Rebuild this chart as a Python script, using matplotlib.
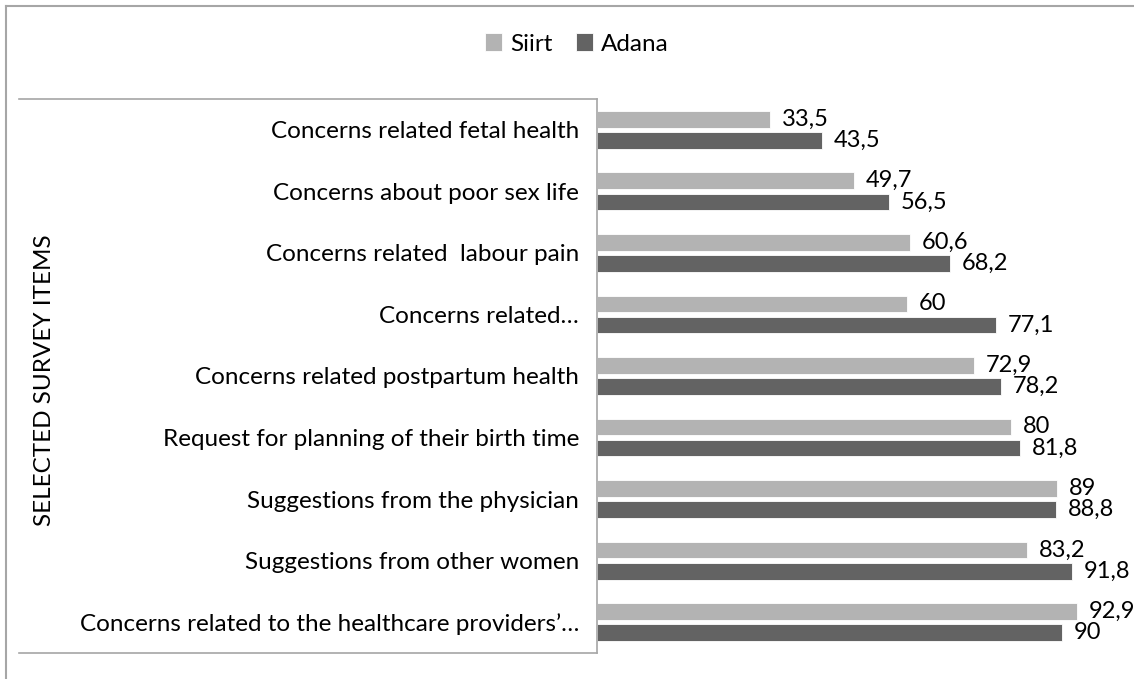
import numpy as np
import matplotlib.pyplot as plt
from matplotlib.lines import Line2D

plt.rcParams['font.family'] = ['Lato', 'DejaVu Sans']

# ----------- DONNÉES -----------
categories = [
    "Concerns related fetal health",
    "Concerns about poor sex life",
    "Concerns related  labour pain",
    "Concerns related…",
    "Concerns related postpartum health",
    "Request for planning of their birth time",
    "Suggestions from the physician",
    "Suggestions from other women",
    "Concerns related to the healthcare providers’…",
]
siirt = [33.5, 49.7, 60.6, 60, 72.9, 80, 89, 83.2, 92.9]
adana = [43.5, 56.5, 68.2, 77.1, 78.2, 81.8, 88.8, 91.8, 90]
series_names = ["Siirt", "Adana"]
axis_title = "SELECTED SURVEY ITEMS"

c_siirt = "#b3b3b3"
c_adana = "#636363"
c_line = "#a6a6a6"

W, H = 1134, 679
fig = plt.figure(figsize=(W / 100, H / 100), dpi=100)

# zone du graphique (pixels -> fraction)
x0, x1 = 597, 1114
y0, y1 = 99, 653
ax = fig.add_axes([x0 / W, 1 - y1 / H, (x1 - x0) / W, (y1 - y0) / H])

y = np.arange(len(categories))
h = 0.27
off = 0.172

ax.barh(y - off, siirt, height=h, color=c_siirt, edgecolor="white", linewidth=0.6, label=series_names[0])
ax.barh(y + off, adana, height=h, color=c_adana, edgecolor="white", linewidth=0.6, label=series_names[1])

fs = 17.5
fs_val = 17
for yi, v in zip(y, siirt):
    ax.text(v + 2.3, yi - off, f"{v:g}".replace(".", ","), va="center", ha="left", fontsize=fs_val)
for yi, v in zip(y, adana):
    ax.text(v + 2.3, yi + off, f"{v:g}".replace(".", ","), va="center", ha="left", fontsize=fs_val)

ax.set_xlim(0, 100)
ax.set_ylim(len(categories) - 0.5, -0.5)
ax.set_yticks(y)
ax.set_yticklabels(categories, fontsize=fs)
ax.tick_params(axis="y", length=0, pad=13)
ax.set_xticks([])
for s in ["top", "right", "bottom"]:
    ax.spines[s].set_visible(False)
ax.spines["left"].set_color(c_line)
ax.spines["left"].set_linewidth(1.2)

# titre d'axe vertical
fig.text(45 / W, 1 - 380 / H, axis_title, rotation=90, ha="center", va="center", fontsize=fs)

# lignes de la boîte des catégories
for yy in [y0, y1]:
    fig.add_artist(Line2D([19 / W, x0 / W], [1 - yy / H, 1 - yy / H], color=c_line, lw=1.2))

# bordure extérieure (haut et gauche)
fig.add_artist(Line2D([6 / W, 1], [1 - 6 / H, 1 - 6 / H], color=c_line, lw=1.5))
fig.add_artist(Line2D([6 / W, 6 / W], [0, 1 - 6 / H], color=c_line, lw=1.5))

# légende
fig.legend(loc="center", bbox_to_anchor=(577 / W, 1 - 44 / H), ncol=2, frameon=False,
           fontsize=fs, handlelength=0.7, handleheight=0.7, handletextpad=0.3,
           columnspacing=1.0)

fig.savefig("out.png", dpi=100)
